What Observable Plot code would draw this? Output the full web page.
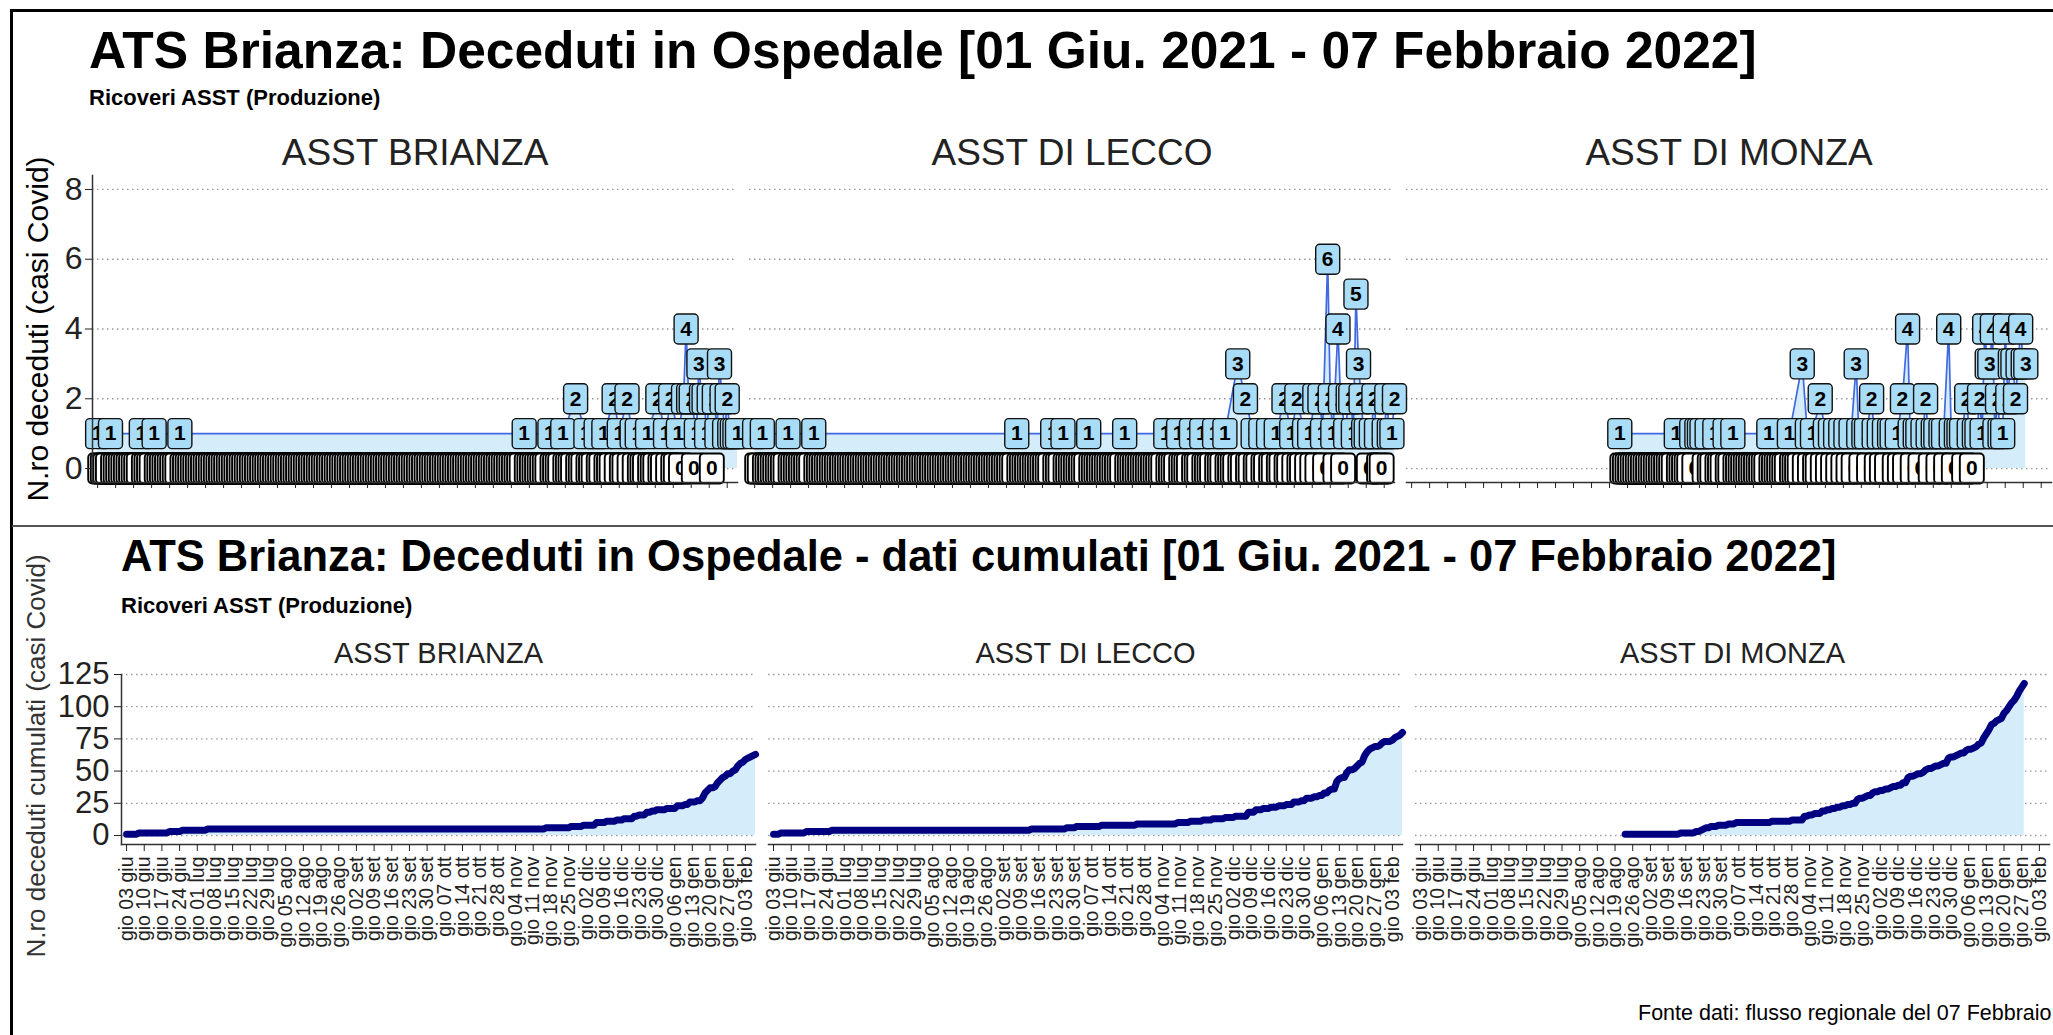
<!DOCTYPE html>
<html><head><meta charset="utf-8">
<script src="https://cdn.jsdelivr.net/npm/d3@7"></script>
<script src="https://cdn.jsdelivr.net/npm/@observablehq/plot@0.6"></script>
<style>
html,body{margin:0;padding:0;background:#fff;overflow:hidden;width:2053px;height:1035px;}
body{position:relative;font-family:"Liberation Sans",Arial,sans-serif;color:#000;}
.abs{position:absolute;white-space:nowrap;line-height:1;}
.rot{position:absolute;white-space:nowrap;line-height:1;transform:translate(-50%,-50%) rotate(-90deg);}
</style></head><body>
<div style="position:absolute;left:10px;top:9px;width:2100px;height:1100px;border-left:3px solid #000;border-top:3px solid #000;"></div>
<div style="position:absolute;left:12px;top:525px;width:2100px;height:0;border-top:2px solid #555;"></div>

<div class="abs" style="left:89px;top:25px;font-weight:bold;font-size:51.5px;">ATS Brianza: Deceduti in Ospedale [01 Giu. 2021 - 07 Febbraio 2022]</div>
<div class="abs" style="left:89px;top:87px;font-weight:bold;font-size:22px;">Ricoveri ASST (Produzione)</div>
<div class="rot" style="left:38px;top:329px;font-size:30px;">N.ro deceduti (casi Covid)</div>

<div class="abs" style="left:121px;top:535px;font-weight:bold;font-size:43.5px;">ATS Brianza: Deceduti in Ospedale - dati cumulati [01 Giu. 2021 - 07 Febbraio 2022]</div>
<div class="abs" style="left:121px;top:595px;font-weight:bold;font-size:22px;">Ricoveri ASST (Produzione)</div>
<div class="rot" style="left:36px;top:756px;font-size:26px;color:#333;">N.ro deceduti cumulati (casi Covid)</div>

<div class="abs" style="left:1638px;top:1003px;font-size:21.5px;">Fonte dati: flusso regionale del 07 Febbraio 2022</div>

<div id="top" style="position:absolute;left:0;top:120px;"></div>
<div id="bottom" style="position:absolute;left:0;top:620px;"></div>

<script>
// ---------------- DATA ----------------
const asstNames = ["ASST BRIANZA", "ASST DI LECCO", "ASST DI MONZA"];

// ASST BRIANZA: days with deaths (casi Covid)
const brianzaDates = ["2021-06-03","2021-06-08","2021-06-20","2021-06-25","2021-07-05",
  "2021-11-16","2021-11-26","2021-12-01","2021-12-06","2021-12-10","2021-12-14","2021-12-17","2021-12-21","2021-12-23","2021-12-26","2021-12-28","2021-12-30",
  "2022-01-03","2022-01-07","2022-01-10","2022-01-12","2022-01-15","2022-01-17","2022-01-18","2022-01-19","2022-01-20","2022-01-22","2022-01-23","2022-01-24","2022-01-25","2022-01-26","2022-01-27","2022-01-29","2022-01-30","2022-01-31",
  "2022-02-01","2022-02-02","2022-02-03","2022-02-04","2022-02-05","2022-02-06","2022-02-07"];
const brianzaDeaths = [1,1,1,1,1,
  1,1,1,2,1,1,1,2,1,2,1,1,
  1,2,1,2,1,2,4,2,2,1,3,2,2,1,2,2,1,3,
  2,1,2,1,1,1,1];

// ASST DI LECCO
const leccoDates = ["2021-06-03","2021-06-06","2021-06-16","2021-06-26",
  "2021-09-13","2021-09-27","2021-10-01","2021-10-11","2021-10-25",
  "2021-11-10","2021-11-15","2021-11-20","2021-11-24","2021-11-29","2021-12-03","2021-12-08","2021-12-11","2021-12-14","2021-12-17","2021-12-20","2021-12-23","2021-12-26","2021-12-29","2021-12-31",
  "2022-01-03","2022-01-05","2022-01-07","2022-01-09","2022-01-10","2022-01-12","2022-01-13","2022-01-14","2022-01-16","2022-01-17","2022-01-19","2022-01-20","2022-01-21","2022-01-22","2022-01-23","2022-01-24","2022-01-25","2022-01-26","2022-01-27","2022-01-29","2022-01-30","2022-01-31",
  "2022-02-03","2022-02-04","2022-02-05","2022-02-06","2022-02-07"];
const leccoDeaths = [1,1,1,1,
  1,1,1,1,1,
  1,1,1,1,1,1,3,2,1,1,1,1,2,1,2,
  1,1,2,2,1,6,2,1,4,2,1,2,2,1,5,3,2,1,1,1,2,1,
  1,2,1,1,2];

// ASST DI MONZA
const monzaDates = ["2021-08-23","2021-09-14","2021-09-20","2021-09-22","2021-09-23","2021-09-24","2021-09-26","2021-09-29","2021-10-03","2021-10-06","2021-10-20","2021-10-28",
  "2021-11-02","2021-11-04","2021-11-06","2021-11-09","2021-11-11","2021-11-13","2021-11-15","2021-11-17","2021-11-19","2021-11-21","2021-11-23","2021-11-24","2021-11-26","2021-11-27","2021-11-29","2021-11-30",
  "2021-12-02","2021-12-04","2021-12-06","2021-12-07","2021-12-09","2021-12-11","2021-12-13","2021-12-14","2021-12-16","2021-12-17","2021-12-19","2021-12-20","2021-12-21","2021-12-23","2021-12-24","2021-12-26","2021-12-27","2021-12-29","2021-12-30",
  "2022-01-01","2022-01-02","2022-01-03","2022-01-05","2022-01-06","2022-01-08","2022-01-09","2022-01-10","2022-01-11","2022-01-12","2022-01-13","2022-01-14","2022-01-15","2022-01-16","2022-01-17","2022-01-18","2022-01-19","2022-01-20","2022-01-21","2022-01-22","2022-01-23","2022-01-24","2022-01-25","2022-01-26","2022-01-27","2022-01-28"];
const monzaDeaths = [1,1,1,1,1,1,1,1,1,1,1,1,
  3,1,1,2,1,1,1,1,1,1,3,1,1,1,2,1,
  1,1,1,1,1,2,4,1,1,1,1,2,1,1,1,1,1,4,1,
  1,1,1,2,1,1,1,2,1,4,3,3,4,1,2,1,1,4,2,3,3,2,3,4,3,3];

// Weekly x-axis ticks (Thursdays) and their labels
const tickDates = ["2021-06-03","2021-06-10","2021-06-17","2021-06-24","2021-07-01","2021-07-08","2021-07-15","2021-07-22","2021-07-29",
  "2021-08-05","2021-08-12","2021-08-19","2021-08-26","2021-09-02","2021-09-09","2021-09-16","2021-09-23","2021-09-30",
  "2021-10-07","2021-10-14","2021-10-21","2021-10-28","2021-11-04","2021-11-11","2021-11-18","2021-11-25",
  "2021-12-02","2021-12-09","2021-12-16","2021-12-23","2021-12-30","2022-01-06","2022-01-13","2022-01-20","2022-01-27","2022-02-03"];
const tickLabels = ["gio 03 giu","gio 10 giu","gio 17 giu","gio 24 giu","gio 01 lug","gio 08 lug","gio 15 lug","gio 22 lug","gio 29 lug",
  "gio 05 ago","gio 12 ago","gio 19 ago","gio 26 ago","gio 02 set","gio 09 set","gio 16 set","gio 23 set","gio 30 set",
  "gio 07 ott","gio 14 ott","gio 21 ott","gio 28 ott","gio 04 nov","gio 11 nov","gio 18 nov","gio 25 nov",
  "gio 02 dic","gio 09 dic","gio 16 dic","gio 23 dic","gio 30 dic","gio 06 gen","gio 13 gen","gio 20 gen","gio 27 gen","gio 03 feb"];
const yTicksDaily = [0, 2, 4, 6, 8];
const yTicksCum = [0, 25, 50, 75, 100, 125];
const xDomain = ["2021-06-01", "2022-02-07"];

// ---------------- BUILD TABLES ----------------
function build(name, dates, deaths) {
  const pos = dates.map((d, i) => ({asst: name, date: new Date(d), n: deaths[i]}));
  const byDay = new Map(pos.map(p => [+p.date, p.n]));
  const days = d3.utcDay.range(pos[0].date, d3.utcDay.offset(pos[pos.length - 1].date, 1));
  const zeros = days.filter(d => !byDay.has(+d)).map(d => ({asst: name, date: d, n: 0}));
  let c = 0;
  const cum = days.map(d => ({asst: name, date: d, total: (c += (byDay.get(+d) || 0))}));
  return {pos, zeros, cum};
}
const sets = [build(asstNames[0], brianzaDates, brianzaDeaths),
              build(asstNames[1], leccoDates, leccoDeaths),
              build(asstNames[2], monzaDates, monzaDeaths)];
const pos = sets.flatMap(s => s.pos);
const zeros = sets.flatMap(s => s.zeros);
const cum = sets.flatMap(s => s.cum);
const ticks = tickDates.map(d => new Date(d));
const labelOf = new Map(tickDates.map((d, i) => [+new Date(d), tickLabels[i]]));
const xdom = xDomain.map(d => new Date(d));

// rounded label box symbol (like ggplot geom_label)
const boxSymbol = {
  draw(ctx) {
    const w = 12, h = 15, r = 4;
    ctx.moveTo(-w + r, -h); ctx.lineTo(w - r, -h); ctx.arcTo(w, -h, w, -h + r, r);
    ctx.lineTo(w, h - r); ctx.arcTo(w, h, w - r, h, r);
    ctx.lineTo(-w + r, h); ctx.arcTo(-w, h, -w, h - r, r);
    ctx.lineTo(-w, -h + r); ctx.arcTo(-w, -h, -w + r, -h, r); ctx.closePath();
  }
};

const font = "'Liberation Sans', Arial, sans-serif";
const grid = {stroke: "#9a9a9a", strokeOpacity: 1, strokeDasharray: "1.5,3.5", strokeWidth: 1.3};
const labelText = {fill: "#000", fontSize: 21, fontWeight: "bold"};

const topPlot = Plot.plot({
  width: 2053, height: 382, marginTop: 55, marginLeft: 91, marginRight: 0, marginBottom: 20,
  style: {fontFamily: font, color: "#222", background: "transparent", overflow: "visible"},
  fx: {domain: asstNames, paddingInner: 0.0182, paddingOuter: 0},
  x: {type: "utc", domain: xdom},
  y: {domain: [-0.4, 8.4]},
  marks: [
    Plot.gridY(yTicksDaily, grid),
    Plot.areaY(pos, {x: "date", y: "n", fx: "asst", fill: "#d5ecfb"}),
    Plot.lineY(pos, {x: "date", y: "n", fx: "asst", stroke: "#4169e1", strokeWidth: 1.7}),
    Plot.dot(zeros, {x: "date", y: "n", fx: "asst", symbol: boxSymbol, r: 5, fill: "white", stroke: "#000", strokeWidth: 1.9, ariaDescription: "zbox"}),
    Plot.text(zeros, {x: "date", y: "n", fx: "asst", text: "n", ...labelText, ariaDescription: "ztxt"}),
    Plot.dot(pos, {x: "date", y: "n", fx: "asst", symbol: boxSymbol, r: 5, fill: "#a9dcf6", stroke: "#111", strokeWidth: 1.4, ariaDescription: "pbox"}),
    Plot.text(pos, {x: "date", y: "n", fx: "asst", text: "n", ...labelText, ariaDescription: "ptxt"}),
    Plot.frame({anchor: "bottom", stroke: "#333", strokeWidth: 1.5}),
    Plot.frame({anchor: "left", facetAnchor: "left", stroke: "#333", strokeWidth: 1.5}),
    Plot.axisX({ticks, tickFormat: () => "", tickSize: 6, label: null}),
    Plot.axisY({ticks: yTicksDaily, tickSize: 7, tickPadding: 3, fontSize: 32, label: null}),
    Plot.axisFx({anchor: "top", tickSize: 0, tickPadding: 11, fontSize: 37, label: null})
  ]
});

const bottomPlot = Plot.plot({
  width: 2053, height: 415, marginTop: 54, marginLeft: 121, marginRight: 4, marginBottom: 191,
  style: {fontFamily: font, color: "#222", background: "transparent", overflow: "visible"},
  fx: {domain: asstNames, paddingInner: 0.0201, paddingOuter: 0},
  x: {type: "utc", domain: xdom},
  y: {domain: [-7, 125]},
  marks: [
    Plot.gridY(yTicksCum, grid),
    Plot.areaY(cum, {x: "date", y: "total", fx: "asst", fill: "#d5ecfb"}),
    Plot.lineY(cum, {x: "date", y: "total", fx: "asst", stroke: "#000080", strokeWidth: 7, strokeLinecap: "round", strokeLinejoin: "round"}),
    Plot.frame({anchor: "bottom", stroke: "#333", strokeWidth: 1.5}),
    Plot.frame({anchor: "left", facetAnchor: "left", stroke: "#333", strokeWidth: 1.5}),
    Plot.axisX({ticks, tickFormat: d => labelOf.get(+d), tickRotate: -90, tickSize: 7, tickPadding: 5, fontSize: 19.5, label: null}),
    Plot.axisY({ticks: yTicksCum, tickSize: 7, tickPadding: 5, fontSize: 31, label: null}),
    Plot.axisFx({anchor: "top", tickSize: 0, tickPadding: 12, fontSize: 29, label: null})
  ]
});

document.getElementById("top").appendChild(topPlot);
document.getElementById("bottom").appendChild(bottomPlot);

// draw each label's box then its text, label after label (ggplot geom_label order)
function interleave(svg, boxTag, txtTag) {
  const boxGs = Array.from(svg.querySelectorAll(`[aria-description="${boxTag}"]`));
  const txtGs = Array.from(svg.querySelectorAll(`[aria-description="${txtTag}"]`));
  boxGs.forEach((bg, k) => {
    const tg = txtGs[k];
    if (!tg) return;
    const paths = Array.from(bg.querySelectorAll("path"));
    const texts = Array.from(tg.querySelectorAll("text"));
    if (paths.length !== texts.length) return;
    const styles = texts.map(t => {
      const cs = getComputedStyle(t);
      return {fill: cs.fill, fontSize: cs.fontSize, fontWeight: cs.fontWeight, fontFamily: cs.fontFamily, textAnchor: cs.textAnchor};
    });
    texts.forEach((t, j) => {
      const s = styles[j];
      t.style.fill = s.fill; t.style.fontSize = s.fontSize; t.style.fontWeight = s.fontWeight;
      t.style.fontFamily = s.fontFamily; t.style.textAnchor = s.textAnchor;
      t.style.stroke = "none";
      paths[j].after(t);
    });
  });
}
interleave(topPlot, "zbox", "ztxt");
interleave(topPlot, "pbox", "ptxt");
</script>
</body></html>
